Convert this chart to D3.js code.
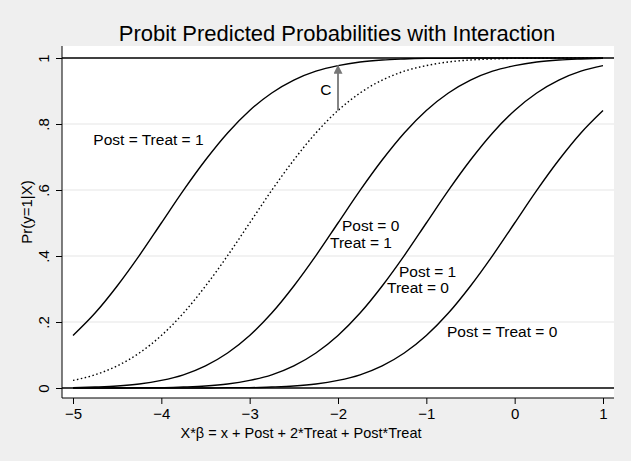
<!DOCTYPE html>
<html>
<head>
<meta charset="utf-8">
<script src="https://cdn.jsdelivr.net/npm/d3@7"></script>
<style>
  body { margin: 0; background: #efefef; }
  svg { display: block; font-family: "Liberation Sans", Arial, sans-serif; }
</style>
</head>
<body>
<div id="chart"></div>
<script>
// x grid for every curve (X*beta)
const xGrid = [-5, -4.75, -4.5, -4.25, -4, -3.75, -3.5, -3.25, -3, -2.75, -2.5, -2.25,
  -2, -1.75, -1.5, -1.25, -1, -0.75, -0.5, -0.25, 0, 0.25, 0.5, 0.75, 1];

// predicted probabilities
const postTreat1 = [.159, .227, .309, .401, .5, .599, .691, .773, .841, .894, .933, .960,
  .977, .988, .994, .997, .999, .999, 1, 1, 1, 1, 1, 1, 1];
const counterfactual = [.023, .040, .067, .106, .159, .227, .309, .401, .5, .599, .691, .773,
  .841, .894, .933, .960, .977, .988, .994, .997, .999, .999, 1, 1, 1];
const post0Treat1 = [.001, .003, .006, .012, .023, .040, .067, .106, .159, .227, .309, .401,
  .5, .599, .691, .773, .841, .894, .933, .960, .977, .988, .994, .997, .999];
const post1Treat0 = [0, 0, 0, .001, .001, .003, .006, .012, .023, .040, .067, .106,
  .159, .227, .309, .401, .5, .599, .691, .773, .841, .894, .933, .960, .977];
const postTreat0 = [0, 0, 0, 0, 0, 0, 0, .001, .001, .003, .006, .012,
  .023, .040, .067, .106, .159, .227, .309, .401, .5, .599, .691, .773, .841];

const xTicks = [-5, -4, -3, -2, -1, 0, 1];
const yTicks = [0, .2, .4, .6, .8, 1];
const yTickLabels = ["0", ".2", ".4", ".6", ".8", "1"];

// arrow C between the dotted and Post=Treat=1 curves
const arrowX = -2;
const arrowFrom = 0.841;
const arrowTo = 0.977;

const labels = [
  { text: "Post = Treat = 1", x: -4.77, y: 0.752 },
  { text: "Post = 0", x: -1.955, y: 0.491 },
  { text: "Treat = 1", x: -2.09, y: 0.442 },
  { text: "Post = 1", x: -1.31, y: 0.352 },
  { text: "Treat = 0", x: -1.445, y: 0.303 },
  { text: "Post = Treat = 0", x: -0.766, y: 0.170 },
  { text: "C", x: -2.2, y: 0.903 }
];

const width = 631, height = 461;
const plot = { left: 62, right: 614, top: 46, bottom: 398 };

const svg = d3.select("#chart").append("svg")
  .attr("width", width)
  .attr("height", height);

svg.append("rect").attr("width", width).attr("height", height).attr("fill", "#efefef");

const x = d3.scaleLinear().domain([-5, 1]).range([73, 603]);
const y = d3.scaleLinear().domain([0, 1]).range([388, 58]);

// plot region
svg.append("rect")
  .attr("x", plot.left)
  .attr("y", plot.top)
  .attr("width", plot.right - plot.left)
  .attr("height", plot.bottom - plot.top)
  .attr("fill", "#fff");

// gridlines
svg.append("g").selectAll("line")
  .data(yTicks.filter(d => d > 0 && d < 1))
  .enter().append("line")
  .attr("x1", plot.left).attr("x2", plot.right)
  .attr("y1", d => y(d)).attr("y2", d => y(d))
  .attr("stroke", "#e6e6e6").attr("stroke-width", 1.2);

// y axis
const yAxis = svg.append("g")
  .attr("transform", `translate(${plot.left},0)`)
  .call(d3.axisLeft(y).tickValues(yTicks).tickSize(6).tickFormat((d, i) => yTickLabels[i]));
yAxis.select(".domain").attr("d", `M0,${plot.top}V${plot.bottom}`).attr("stroke", "#000");
yAxis.selectAll(".tick line").attr("stroke", "#000");
yAxis.selectAll(".tick text")
  .attr("x", 0).attr("y", 0).attr("dy", "0.35em")
  .attr("transform", "translate(-18,0) rotate(-90)")
  .attr("text-anchor", "middle")
  .attr("font-size", 15)
  .attr("font-family", "Liberation Sans, Arial, sans-serif")
  .attr("fill", "#000");

// x axis
const xAxis = svg.append("g")
  .attr("transform", `translate(0,${plot.bottom})`)
  .call(d3.axisBottom(x).tickValues(xTicks).tickSize(6).tickFormat(d3.format("d")));
xAxis.select(".domain").attr("d", `M${plot.left},0H${plot.right}`).attr("stroke", "#000");
xAxis.selectAll(".tick line").attr("stroke", "#000");
xAxis.selectAll(".tick text")
  .attr("y", 10)
  .attr("font-size", 15)
  .attr("font-family", "Liberation Sans, Arial, sans-serif")
  .attr("fill", "#000");

// horizontal lines at 0 and 1
svg.append("g").selectAll("line")
  .data([0, 1])
  .enter().append("line")
  .attr("x1", plot.left).attr("x2", plot.right)
  .attr("y1", d => y(d)).attr("y2", d => y(d))
  .attr("stroke", "#000").attr("stroke-width", 1.3);

// curves
const line = d3.line()
  .x((d, i) => x(xGrid[i]))
  .y(d => y(d))
  .curve(d3.curveMonotoneX);

const series = [
  { values: postTreat1, dash: null },
  { values: counterfactual, dash: "1.5,2.5" },
  { values: post0Treat1, dash: null },
  { values: post1Treat0, dash: null },
  { values: postTreat0, dash: null }
];

svg.append("g").selectAll("path")
  .data(series)
  .enter().append("path")
  .attr("d", d => line(d.values))
  .attr("fill", "none")
  .attr("stroke", "#000")
  .attr("stroke-width", d => d.dash ? 1.4 : 1.4)
  .attr("stroke-dasharray", d => d.dash);

// arrow
svg.append("defs").append("marker")
  .attr("id", "head")
  .attr("viewBox", "0 0 10 10")
  .attr("refX", 9).attr("refY", 5)
  .attr("markerWidth", 5).attr("markerHeight", 5)
  .attr("markerUnits", "strokeWidth")
  .attr("orient", "auto")
  .append("path")
  .attr("d", "M0,0L10,5L0,10Z")
  .attr("fill", "#777");

svg.append("line")
  .attr("x1", x(arrowX)).attr("x2", x(arrowX))
  .attr("y1", y(arrowFrom)).attr("y2", y(arrowTo))
  .attr("stroke", "#777").attr("stroke-width", 1.8)
  .attr("marker-end", "url(#head)");

// labels
svg.append("g").selectAll("text")
  .data(labels)
  .enter().append("text")
  .attr("x", d => x(d.x))
  .attr("y", d => y(d.y))
  .attr("dy", "0.35em")
  .attr("font-size", 15.5)
  .attr("fill", "#000")
  .text(d => d.text);

// titles
svg.append("text")
  .attr("x", 337)
  .attr("y", 41)
  .attr("text-anchor", "middle")
  .attr("font-size", 22)
  .attr("fill", "#000")
  .text("Probit Predicted Probabilities with Interaction");

svg.append("text")
  .attr("x", 301)
  .attr("y", 438)
  .attr("text-anchor", "middle")
  .attr("font-size", 14.5)
  .attr("fill", "#000")
  .text("X*β = x + Post + 2*Treat + Post*Treat");

svg.append("text")
  .attr("transform", "translate(32,212) rotate(-90)")
  .attr("text-anchor", "middle")
  .attr("font-size", 15)
  .attr("fill", "#000")
  .text("Pr(y=1|X)");
</script>
</body>
</html>
